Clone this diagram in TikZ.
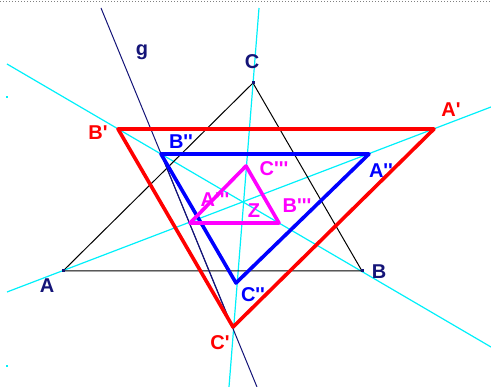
\documentclass[tikz,border=0pt]{standalone}
\usepackage{fontspec}
\setmainfont{Liberation Sans}[Ligatures=TeXOff]
\usetikzlibrary{calc}
\definecolor{gnavy}{RGB}{20,20,120}
\definecolor{gcyan}{RGB}{0,240,250}
\definecolor{gred}{RGB}{255,0,0}
\definecolor{gblue}{RGB}{0,0,255}
\definecolor{gmag}{RGB}{255,0,255}
\tikzset{
  axisline/.style={gcyan, line width=1.2pt},
  origtri/.style={black, line width=1pt},
  gline/.style={gnavy, line width=1pt},
  imgtri/.style={line width=3.6pt, line join=round},
  ptmark/.style={fill=gnavy, minimum size=3pt, inner sep=0pt},
  lbl/.style={font=\bfseries\fontsize{20}{20}\selectfont, inner sep=0pt},
}
\begin{document}
\begin{tikzpicture}[x=1pt, y=-1pt]
  \useasboundingbox (0,0) rectangle (491,387);
  \draw[gray, dotted, line width=1pt] (0,1.5) -- (491,1.5);

  % points
  \coordinate (A) at (63,271);
  \coordinate (B) at (362,271);
  \coordinate (C) at (253,83);
  \coordinate (A1) at (434,129);
  \coordinate (B1) at (118,129);
  \coordinate (C1) at (233,327);
  \coordinate (A2) at (369,154);
  \coordinate (B2) at (161,154);
  \coordinate (C2) at (236,283);
  \coordinate (A3) at (190,223);
  \coordinate (B3) at (279,223);
  \coordinate (C3) at (246,166);
  \coordinate (ga) at (101,8);
  \coordinate (gb) at (257,387);
  \coordinate (ua) at (7,292);
  \coordinate (ub) at (491,107);
  \coordinate (va) at (7,64);
  \coordinate (vb) at (491,347);
  \coordinate (wa) at (259,8);
  \coordinate (wb) at (229,387);

  % lines through Z
  \draw[axisline] (ua) -- (ub);
  \draw[axisline] (va) -- (vb);
  \draw[axisline] (wa) -- (wb);
  \fill[gcyan] (6,96) rectangle (8,98);
  \fill[gcyan] (6,365) rectangle (8,367);

  \draw[origtri] (A) -- (B) -- (C) -- cycle;
  \draw[gline] (ga) -- (gb);
  \draw[gline] (B2) -- ($(C1)+(-1,0)$);

  \draw[imgtri, gred] (A1) -- (B1) -- (C1) -- cycle;
  \draw[imgtri, gblue] (A2) -- (B2) -- (C2) -- cycle;
  \node[lbl, text=gmag] (lA3) at (215,200) {A'''};
  \draw[imgtri, gmag] (A3) -- (B3) -- (C3) -- cycle;

  \node[ptmark] at (A) {};
  \node[ptmark] at (B) {};
  \node[ptmark] at (C) {};

  % labels
  \node[lbl, text=gnavy] (lA) at (47,286) {A};
  \node[lbl, text=gnavy] (lB) at (379,272) {B};
  \node[lbl, text=gnavy] (lC) at (252,62) {C};
  \node[lbl, text=gnavy] (lg) at (142,52) {g};
  \node[lbl, text=gred] (lA1) at (451,110) {A'};
  \node[lbl, text=gred] (lB1) at (98,133) {B'};
  \node[lbl, text=gred] (lC1) at (220,343) {C'};
  \node[lbl, text=gblue] (lA2) at (381,171) {A''};
  \node[lbl, text=gblue] (lB2) at (181,142) {B''};
  \node[lbl, text=gblue] (lC2) at (253,295) {C''};
  \node[lbl, text=gmag] (lB3) at (297,206) {B'''};
  \node[lbl, text=gmag] (lC3) at (274,169) {C'''};
  \node[lbl, text=gmag] (lZ) at (254,211) {Z};
\end{tikzpicture}
\end{document}
